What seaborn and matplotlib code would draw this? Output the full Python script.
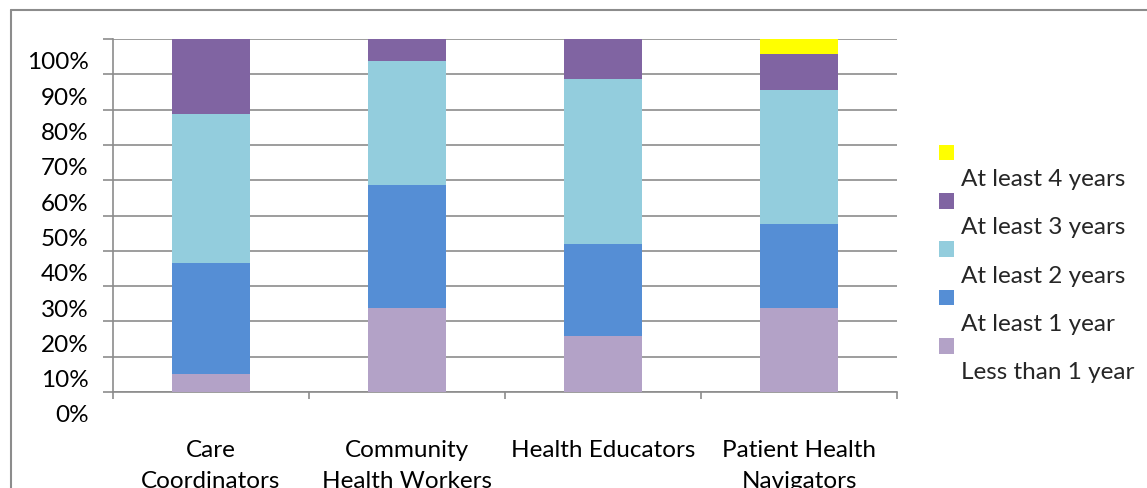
import matplotlib
matplotlib.use('Agg')
import matplotlib.pyplot as plt
import matplotlib.transforms as mtransforms
from matplotlib.patches import Patch
from matplotlib.lines import Line2D
from matplotlib.ticker import FixedLocator, NullFormatter
import seaborn as sns
import numpy as np

# Data (percent of each role)
categories = ['Care\nCoordinators', 'Community\nHealth Workers', 'Health Educators', 'Patient Health\nNavigators']
series_names = ['Less than 1 year', 'At least 1 year', 'At least 2 years', 'At least 3 years', 'At least 4 years']
less_than_1 = [5.0, 23.9, 15.9, 23.9]
at_least_1 = [31.6, 34.8, 26.1, 23.7]
at_least_2 = [42.2, 35.1, 46.7, 38.0]
at_least_3 = [21.2, 6.2, 11.3, 10.2]
at_least_4 = [0.0, 0.0, 0.0, 4.2]
y_ticks = [0, 10, 20, 30, 40, 50, 60, 70, 80, 90, 100]

colors = ['#B3A2C7', '#558ED5', '#93CDDD', '#8064A2', '#FFFF00']
grid_col = '#8C8C8C'
fs = 17.5

sns.set_theme(style='white')
plt.rcParams['font.family'] = ['Lato', 'DejaVu Sans']

W, H = 1147, 489
fig = plt.figure(figsize=(W / 100, H / 100), dpi=100)
ax = fig.add_axes([113 / W, 1 - 393 / H, (897 - 113) / W, (393 - 40) / H])

# Stacked bars: draw cumulative totals from top layer down
layers = [less_than_1, at_least_1, at_least_2, at_least_3, at_least_4]
cums = np.cumsum(np.array(layers), axis=0)
x_pos = np.arange(len(categories))
for i in range(len(layers) - 1, -1, -1):
    sns.barplot(x=x_pos, y=cums[i], color=colors[i], saturation=1, width=0.403,
                linewidth=0, native_scale=True, ax=ax, zorder=3)

ax.set_xlim(-0.5, len(categories) - 0.5)
ax.set_ylim(0, 100)

# Gridlines
ax.set_yticks(y_ticks)
ax.set_yticklabels([f'{v}%' for v in y_ticks])
ax.yaxis.grid(True, color=grid_col, linewidth=1.2)
ax.xaxis.grid(False)
ax.set_axisbelow(True)

# x ticks at category boundaries, labels centered
ax.xaxis.set_major_locator(FixedLocator(np.arange(-0.5, len(categories), 1.0)))
ax.xaxis.set_major_formatter(NullFormatter())
ax.xaxis.set_minor_locator(FixedLocator(x_pos))
ax.set_xticklabels(categories, minor=True)
ax.tick_params(axis='x', which='major', direction='out', length=5, width=1.2, color=grid_col, bottom=True)
ax.tick_params(axis='x', which='minor', length=0, pad=34, labelsize=fs, colors='black')
for lab in ax.get_xticklabels(minor=True):
    lab.set_linespacing(1.6)
ax.tick_params(axis='y', direction='out', length=7, width=1.2, color=grid_col, left=True, pad=10.5,
               labelsize=fs, labelcolor='black')

# y labels sit below their gridlines
offset = mtransforms.ScaledTranslation(0, -0.21, fig.dpi_scale_trans)
for lab in ax.get_yticklabels():
    lab.set_transform(lab.get_transform() + offset)

for s in ['top', 'right']:
    ax.spines[s].set_visible(False)
for s in ['left', 'bottom']:
    ax.spines[s].set_color(grid_col)
    ax.spines[s].set_linewidth(1.2)

ax.set_xlabel('')
ax.set_ylabel('')

# Legend: swatch on one row, its label on the next
handles = []
labels = []
for i in range(len(series_names) - 1, -1, -1):
    handles.append(Patch(facecolor=colors[i], edgecolor='none'))
    labels.append(' ')
    handles.append(Patch(facecolor='none', edgecolor='none'))
    labels.append(series_names[i])
leg = fig.legend(handles, labels, loc='upper left', bbox_to_anchor=(939 / W, 1 - 145 / H),
                 frameon=False, fontsize=fs, handlelength=0.62, handleheight=0.62,
                 handletextpad=0.3, labelspacing=0.13, borderpad=0, borderaxespad=0)

# Outer chart border (left and top)
fig.add_artist(Line2D([11 / W, 11 / W], [0, 1 - 11 / H], color=grid_col, linewidth=1.5,
                      transform=fig.transFigure))
fig.add_artist(Line2D([11 / W, 1], [1 - 11 / H, 1 - 11 / H], color=grid_col, linewidth=1.5,
                      transform=fig.transFigure))

fig.savefig('out.png', dpi=100)
